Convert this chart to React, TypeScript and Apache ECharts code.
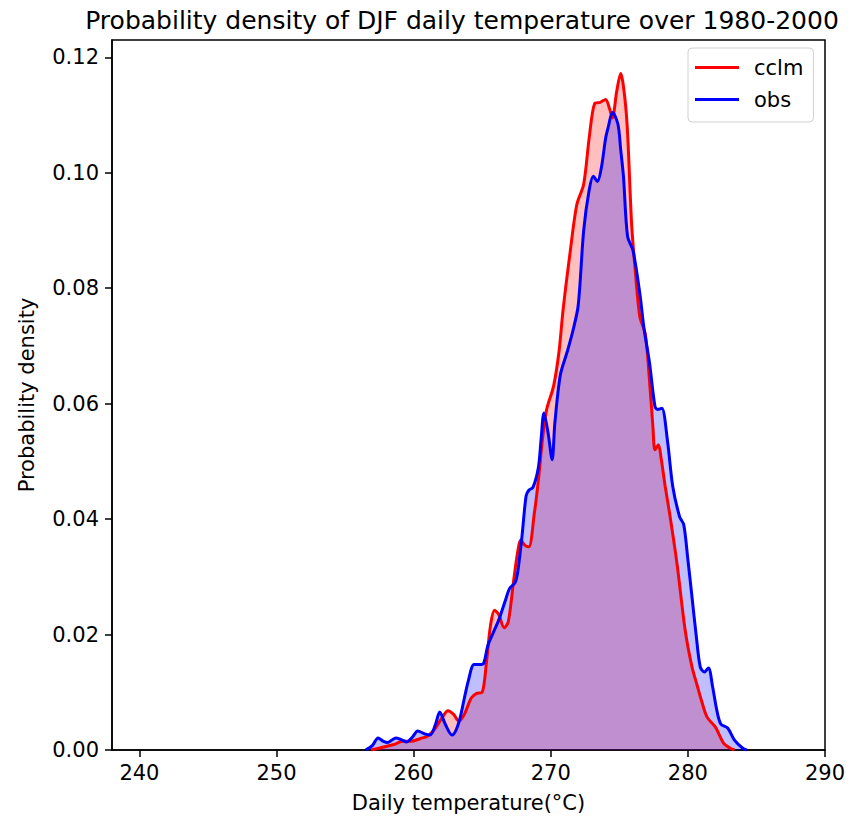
import React, { useEffect, useRef } from "react";
import * as echarts from "echarts";

const titleText = "Probability density of DJF daily temperature over 1980-2000";
const xTicks = [240, 250, 260, 270, 280, 290];
const seriesNames = ["cclm", "obs"];
const seriesColors = ["#ff0000", "#0000ff"];
const fillColors = ["rgba(255,0,0,0.25)", "rgba(0,0,255,0.25)"];

const cclmTemp = [
  256.9, 257.6, 258.5, 259.2, 259.8, 260.5, 261.0, 261.5, 262.1, 262.5, 262.9, 263.3, 263.7,
  264.2, 264.6, 265.0, 265.3, 265.6, 265.9, 266.2, 266.6, 266.9, 267.3, 267.6, 267.8, 268.1,
  268.4, 268.8, 269.1, 269.4, 269.7, 270.2, 270.6, 270.9, 271.4, 271.9, 272.4, 272.8, 273.2,
  273.6, 274.0, 274.3, 274.5, 274.8, 275.1, 275.4, 275.6, 275.9, 276.2, 276.5, 276.9, 277.2,
  277.45, 277.6, 277.85, 278.05, 278.35, 278.7, 279.2, 279.8, 280.3, 280.7, 281.0, 281.4,
  282.0, 282.6, 283.1, 283.4,
];
const cclmDensity = [
  0, 0.0004, 0.0009, 0.0015, 0.0015, 0.002, 0.0024, 0.0035, 0.0057, 0.0068, 0.0062, 0.005, 0.0062,
  0.009, 0.0098, 0.01, 0.015, 0.0215, 0.0242, 0.0235, 0.0212, 0.0222, 0.0295, 0.0345, 0.0364, 0.0355,
  0.0352, 0.041, 0.0468, 0.054, 0.059, 0.063, 0.069, 0.0763, 0.086, 0.0945, 0.098, 0.106, 0.112,
  0.1122, 0.1127, 0.111, 0.1095, 0.114, 0.1172, 0.113, 0.107, 0.091, 0.082, 0.075, 0.072, 0.064,
  0.056, 0.052, 0.0529, 0.0505, 0.0456, 0.0405, 0.0324, 0.0208, 0.0144, 0.011, 0.0085, 0.0057,
  0.004, 0.0012, 0.0003, 0,
];

const obsTemp = [
  256.5, 257.0, 257.4, 257.8, 258.1, 258.7, 259.1, 259.5, 259.9, 260.3, 260.8, 261.2, 261.6,
  261.9, 262.3, 262.8, 263.1, 263.4, 263.7, 264.0, 264.4, 264.8, 265.1, 265.4, 265.8, 266.2,
  266.7, 267.0, 267.4, 267.6, 267.9, 268.2, 268.4, 268.7, 269.1, 269.3, 269.5, 269.8, 270.1,
  270.3, 270.7, 271.2, 271.6, 272.0, 272.4, 272.8, 273.1, 273.4, 273.7, 274.0, 274.2, 274.5,
  274.9, 275.1, 275.3, 275.6, 276.0, 276.5, 276.8, 277.2, 277.6, 277.8, 278.1, 278.5, 278.9,
  279.4, 279.7, 280.0, 280.3, 280.6, 280.9, 281.2, 281.5, 281.8, 282.1, 282.4, 282.9, 283.4,
  284.0, 284.3,
];
const obsDensity = [
  0, 0.0008, 0.0021, 0.0015, 0.0013, 0.0021, 0.0018, 0.0014, 0.0022, 0.0033, 0.0028, 0.0026, 0.0045,
  0.0066, 0.0045, 0.0026, 0.0035, 0.0057, 0.009, 0.0121, 0.0148, 0.0148, 0.015, 0.018, 0.0203, 0.0225,
  0.026, 0.028, 0.029, 0.031, 0.037, 0.044, 0.045, 0.0455, 0.049, 0.054, 0.0584, 0.055, 0.0503,
  0.0567, 0.065, 0.069, 0.0725, 0.077, 0.09, 0.097, 0.0994, 0.0985, 0.101, 0.106, 0.108, 0.1105,
  0.1084, 0.104, 0.0994, 0.089, 0.0865, 0.079, 0.073, 0.0671, 0.0595, 0.059, 0.0592, 0.0538, 0.0456,
  0.0404, 0.039, 0.033, 0.0265, 0.02, 0.0144, 0.0135, 0.0142, 0.011, 0.007, 0.0045, 0.0038, 0.0017,
  0.0003, 0,
];

const FONT = "DejaVu Sans";

export default function App() {
  const ref = useRef<HTMLDivElement>(null);
  useEffect(() => {
    if (!ref.current) return;
    const chart = echarts.init(ref.current, null, { renderer: "svg" });
    const datasets = [
      cclmTemp.map((t, i) => [t, cclmDensity[i]]),
      obsTemp.map((t, i) => [t, obsDensity[i]]),
    ];
    const areaSeries = datasets.map((d, k) => ({
      name: seriesNames[k],
      type: "line",
      data: d,
      smooth: 0.3,
      showSymbol: false,
      silent: true,
      lineStyle: { width: 0, opacity: 0 },
      itemStyle: { color: seriesColors[k] },
      areaStyle: { color: fillColors[k], opacity: 1, origin: "start" },
      z: 2 + k,
    }));
    const lineSeries = datasets.map((d, k) => ({
      name: seriesNames[k],
      type: "line",
      data: d,
      smooth: 0.3,
      showSymbol: false,
      lineStyle: { color: seriesColors[k], width: 3 },
      itemStyle: { color: seriesColors[k] },
      z: 5 + k,
    }));
    chart.setOption({
      animation: false,
      backgroundColor: "#ffffff",
      textStyle: { fontFamily: FONT },
      title: {
        text: titleText,
        left: 457,
        top: 3,
        textAlign: "center",
        textStyle: { fontFamily: FONT, fontSize: 25, fontWeight: "normal", color: "#000" },
      },
      legend: {
        orient: "vertical",
        left: 688,
        top: 48,
        padding: [9, 10, 12, 7],
        itemGap: 11,
        itemWidth: 44,
        itemHeight: 3,
        borderColor: "#d0d0d0",
        borderWidth: 1,
        borderRadius: 4,
        backgroundColor: "rgba(255,255,255,0.8)",
        textStyle: { fontFamily: FONT, fontSize: 21, color: "#000", padding: [0, 0, 0, 10] },
        data: seriesNames.map((n) => ({ name: n, icon: "rect" })),
      },
      grid: {
        left: 112,
        right: 33,
        top: 40,
        bottom: 70,
        show: true,
        borderColor: "#000",
        borderWidth: 1.5,
        backgroundColor: "transparent",
      },
      xAxis: {
        type: "value",
        min: 238,
        max: 290,
        name: "Daily temperature(°C)",
        nameLocation: "middle",
        nameGap: 42,
        nameTextStyle: { fontFamily: FONT, fontSize: 21, color: "#000" },
        axisLine: { show: true, lineStyle: { color: "#000", width: 1.5 } },
        axisTick: { show: true, length: 7, customValues: xTicks, lineStyle: { color: "#000", width: 1.5 } },
        axisLabel: { customValues: xTicks, margin: 12, fontFamily: FONT, fontSize: 21, color: "#000" },
        splitLine: { show: false },
      },
      yAxis: {
        type: "value",
        min: 0,
        max: 0.123,
        interval: 0.02,
        name: "Probability density",
        nameLocation: "middle",
        nameGap: 75,
        nameTextStyle: { fontFamily: FONT, fontSize: 21, color: "#000" },
        axisLine: { show: true, lineStyle: { color: "#000", width: 1.5 } },
        axisTick: { show: true, length: 7, lineStyle: { color: "#000", width: 1.5 } },
        axisLabel: {
          margin: 13,
          fontFamily: FONT,
          fontSize: 21,
          color: "#000",
          showMaxLabel: false,
          formatter: (v: number) => v.toFixed(2),
        },
        splitLine: { show: false },
      },
      series: [...areaSeries, ...lineSeries],
    });
    return () => chart.dispose();
  }, []);
  return (
    <div
      ref={ref}
      style={{ position: "absolute", left: 0, top: 0, width: 858, height: 820 }}
    />
  );
}
